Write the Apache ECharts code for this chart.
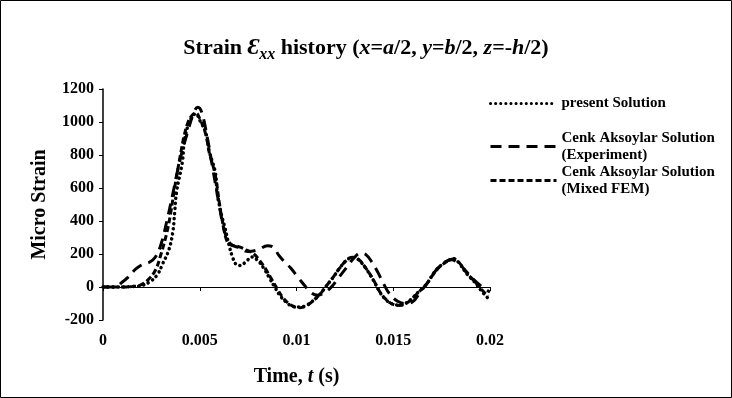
<!DOCTYPE html>
<html>
<head>
<meta charset="utf-8">
<script src="https://cdn.jsdelivr.net/npm/echarts@6/dist/echarts.min.js"></script>
<style>html,body{margin:0;padding:0;background:#fff}#c{width:732px;height:398px}</style>
</head>
<body>
<div id="c"></div>
<script>
const xTicks = [0, 0.005, 0.01, 0.015, 0.02];
const yTicks = [-200, 0, 200, 400, 600, 800, 1000, 1200];

const timePresent = [0,0.001,0.0015,0.0019,0.0024,0.0028,0.0031,0.0034,0.0036,0.0037,0.0038,0.0041,0.0042,0.0044,0.0046,0.0048,0.0050,0.0053,0.0055,0.0058,0.0059,0.0061,0.0063,0.0065,0.0067,0.0069,0.0071,0.0074,0.0077,0.0080,0.0083,0.0086,0.0089,0.0092,0.0095,0.0098,0.0102,0.0105,0.0108,0.0112,0.0115,0.0119,0.0122,0.0126,0.0129,0.0132,0.0136,0.0140,0.0143,0.0146,0.0149,0.0153,0.0157,0.0160,0.0163,0.0167,0.0171,0.0175,0.0179,0.0181,0.0184,0.0188,0.0192,0.0196,0.0200];
const valuesPresent = [0,0,2,6,30,73,145,224,327,448,575,757,880,980,1030,1050,1010,940,818,697,575,448,360,260,180,135,130,155,182,160,115,55,-6,-60,-95,-118,-121,-112,-88,-45,0,60,110,164,178,165,110,35,-30,-75,-100,-110,-95,-65,-30,15,85,135,164,172,145,80,30,-30,-80];

const timeExperiment = [0,0.0006,0.001,0.0013,0.0017,0.0021,0.0024,0.0027,0.003,0.0033,0.0036,0.004,0.0044,0.0047,0.0049,0.0051,0.0054,0.0057,0.006,0.0063,0.0066,0.007,0.0075,0.008,0.0085,0.0088,0.0091,0.0094,0.0097,0.0101,0.0104,0.0107,0.0111,0.0115,0.0118,0.0122,0.0126,0.013,0.0133,0.0136,0.0139,0.0142,0.0145,0.0148,0.0152,0.0156,0.016,0.0164,0.0168,0.0172,0.0176,0.018,0.0184,0.0188,0.0192,0.0196,0.0200];
const valuesExperiment = [0,0,30,60,110,140,150,180,260,400,560,780,950,1060,1090,1060,900,700,500,330,260,240,215,225,250,240,190,150,115,55,12,-30,-50,-30,0,60,120,180,205,195,150,90,20,-40,-85,-100,-90,-30,30,100,145,165,140,90,40,0,-30];

const timeFEM = [0,0.001,0.0015,0.0019,0.0023,0.0027,0.003,0.0033,0.0035,0.0037,0.004,0.0042,0.0044,0.0046,0.0048,0.005,0.0053,0.0055,0.0058,0.006,0.0062,0.0064,0.0066,0.007,0.0074,0.0078,0.0081,0.0084,0.0087,0.009,0.0093,0.0096,0.0099,0.0102,0.0105,0.0108,0.0112,0.0115,0.0119,0.0122,0.0126,0.0129,0.0132,0.0136,0.014,0.0143,0.0146,0.0149,0.0153,0.0157,0.016,0.0163,0.0167,0.0171,0.0175,0.0179,0.0181,0.0184,0.0188,0.0192,0.0196,0.0199];
const valuesFEM = [0,0,3,10,40,100,200,330,450,600,800,920,1000,1040,1055,1020,930,810,680,520,380,280,255,245,225,200,160,110,50,-10,-65,-100,-120,-125,-115,-90,-45,0,60,110,164,180,168,112,38,-28,-72,-100,-112,-97,-68,-32,15,82,132,162,170,148,85,35,-20,-55];

function pairs(t, v) { return t.map((x, i) => [x, v[i]]); }

const serif = '"Liberation Serif", "Times New Roman", serif';
const chart = echarts.init(document.getElementById('c'));
const legendBase = {
  orient: 'vertical', itemWidth: 66, itemHeight: 12, itemGap: 0,
  itemStyle: { opacity: 0 },
  lineStyle: { width: 3 },
  textStyle: { fontFamily: serif, fontWeight: 'bold', fontSize: 15, color: '#000', lineHeight: 17 },
  selectedMode: false
};
chart.setOption({
  animation: false,
  backgroundColor: '#fff',
  title: {
    left: 'center', top: 28,
    text: '{b|Strain }{e|Ɛ}{s|xx}{b| history (}{i|x}{b|=}{i|a}{b|/2, }{i|y}{b|=}{i|b}{b|/2, }{i|z}{b|=-}{i|h}{b|/2)}',
    textStyle: {
      rich: {
        b: { fontFamily: serif, fontWeight: 'bold', fontSize: 22, color: '#000' },
        i: { fontFamily: serif, fontWeight: 'bold', fontStyle: 'italic', fontSize: 22, color: '#000' },
        e: { fontFamily: serif, fontStyle: 'italic', fontWeight: 'bold', fontSize: 23, color: '#000' },
        s: { fontFamily: serif, fontWeight: 'bold', fontStyle: 'italic', fontSize: 16, color: '#000', padding: [14, 0, 0, 0] }
      }
    }
  },
  legend: [
    Object.assign({}, legendBase, { left: 484, top: 90, data: ['present Solution'] }),
    Object.assign({}, legendBase, { left: 484, top: 116, data: ['Cenk Aksoylar Solution (Experiment)'],
      formatter: () => 'Cenk Aksoylar Solution\n(Experiment)',
      textStyle: Object.assign({}, legendBase.textStyle, { padding: [17, 0, 0, 0] }) }),
    Object.assign({}, legendBase, { left: 484, top: 150, data: ['Cenk Aksoylar Solution (Mixed FEM)'],
      formatter: () => 'Cenk Aksoylar Solution\n(Mixed FEM)',
      textStyle: Object.assign({}, legendBase.textStyle, { padding: [17, 0, 0, 0] }) })
  ],
  grid: { left: 103, right: 242, top: 89, bottom: 78, containLabel: false },
  xAxis: [
    {
      type: 'value', min: xTicks[0], max: xTicks[xTicks.length - 1], interval: 0.005,
      axisLine: { onZero: true, lineStyle: { color: '#000', width: 1 } },
      axisTick: { show: true, inside: false, length: 4, lineStyle: { color: '#000' } },
      axisLabel: { show: false }, splitLine: { show: false }
    },
    {
      type: 'value', position: 'bottom', min: xTicks[0], max: xTicks[xTicks.length - 1], interval: 0.005,
      axisLine: { show: false, onZero: false }, axisTick: { show: false }, splitLine: { show: false },
      axisLabel: { margin: 13, fontFamily: serif, fontWeight: 'bold', fontSize: 16, color: '#000',
        formatter: v => String(+v.toFixed(3)) },
      name: '{b|Time, }{i|t}{b| (s)}', nameLocation: 'middle', nameGap: 47,
      nameTextStyle: { rich: {
        b: { fontFamily: serif, fontWeight: 'bold', fontSize: 20, color: '#000' },
        i: { fontFamily: serif, fontWeight: 'bold', fontStyle: 'italic', fontSize: 20, color: '#000' } } }
    }
  ],
  yAxis: {
    type: 'value', min: yTicks[0], max: yTicks[yTicks.length - 1], interval: 200,
    axisLine: { show: true, lineStyle: { color: '#000', width: 1.5 } },
    axisTick: { show: true, inside: false, length: 4, lineStyle: { color: '#000' } },
    axisLabel: { margin: 9, fontFamily: serif, fontWeight: 'bold', fontSize: 16, color: '#000',
      formatter: v => String(v) },
    splitLine: { show: false },
    name: 'Micro Strain', nameLocation: 'middle', nameGap: 53,
    nameTextStyle: { fontFamily: serif, fontWeight: 'bold', fontSize: 20, color: '#000' }
  },
  series: [
    { name: 'present Solution', type: 'line', xAxisIndex: 0, smooth: 0.4, showSymbol: false, symbol: 'none',
      data: pairs(timePresent, valuesPresent),
      lineStyle: { color: '#000', width: 3.5, type: [0.1, 5], cap: 'round' }, itemStyle: { color: '#000' } },
    { name: 'Cenk Aksoylar Solution (Experiment)', type: 'line', xAxisIndex: 0, smooth: 0.4, showSymbol: false, symbol: 'none',
      data: pairs(timeExperiment, valuesExperiment),
      lineStyle: { color: '#000', width: 3, type: [11, 7] }, itemStyle: { color: '#000' } },
    { name: 'Cenk Aksoylar Solution (Mixed FEM)', type: 'line', xAxisIndex: 0, smooth: 0.4, showSymbol: false, symbol: 'none',
      data: pairs(timeFEM, valuesFEM),
      lineStyle: { color: '#000', width: 3, type: [6, 3] }, itemStyle: { color: '#000' } }
  ],
  graphic: [{ type: 'rect', shape: { x: 0.5, y: 0.5, width: 731, height: 397 }, style: { fill: 'none', stroke: '#000', lineWidth: 1 }, silent: true }]
});
</script>
</body>
</html>
